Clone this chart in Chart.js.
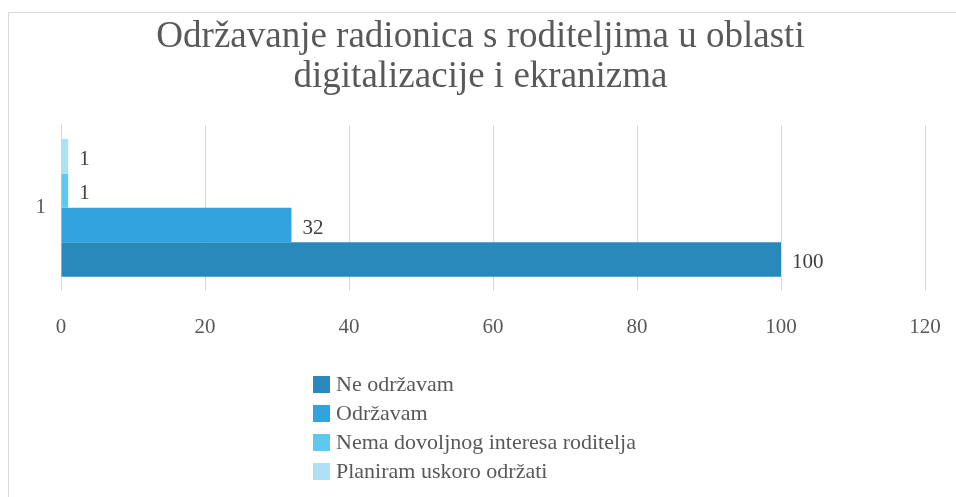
<!DOCTYPE html>
<html>
<head>
<meta charset="utf-8">
<script src="https://cdn.jsdelivr.net/npm/chart.js@4"></script>
<style>
  body { margin: 0; background: #fff; }
  #frame { position: absolute; left: 8px; top: 12px; width: 1000px; height: 520px; border: 1px solid #d9d9d9; }
  #wrap { position: absolute; left: 0; top: 0; width: 956px; height: 372px; }
  #legend { position: absolute; left: 313px; top: 369px; color: #595959; font-size: 22px; font-family: 'Liberation Serif'; }
  #legend div { height: 29px; line-height: 29px; white-space: nowrap; }
  #legend span { display: inline-block; width: 17px; height: 17px; margin-right: 6px; vertical-align: -2px; }
</style>
</head>
<body>
<div id="frame"></div>
<div id="wrap"><canvas id="chart" width="956" height="372"></canvas></div>
<div id="legend"></div>
<script>
const categories = ["1"];
const seriesNames = ["Ne održavam", "Održavam", "Nema dovoljnog interesa roditelja", "Planiram uskoro održati"];
const seriesValues = [[100], [32], [1], [1]];
const seriesColors = ["#2a89bb", "#32a3df", "#5ec8ef", "#ade2f6"];
const xTicks = [0, 20, 40, 60, 80, 100, 120];

const serif = "Liberation Serif";

// chart.js puts the first dataset on top, the picture has "Ne održavam" at the bottom
const order = [3, 2, 1, 0];

const valueLabels = {
    id: "valueLabels",
    afterDatasetsDraw(chart) {
        const ctx = chart.ctx;
        ctx.save();
        ctx.font = "21px '" + serif + "'";
        ctx.fillStyle = "#404040";
        ctx.textBaseline = "middle";
        ctx.textAlign = "left";
        chart.data.datasets.forEach((ds, i) => {
            chart.getDatasetMeta(i).data.forEach((bar, j) => {
                ctx.fillText(ds.data[j], bar.x + 11, bar.y + 3);
            });
        });
        ctx.restore();
    }
};

Chart.defaults.font.family = serif;

new Chart(document.getElementById("chart"), {
    type: "bar",
    data: {
        labels: categories,
        datasets: order.map(i => ({
            label: seriesNames[i],
            data: seriesValues[i],
            backgroundColor: seriesColors[i],
            categoryPercentage: 0.83,
            barPercentage: 1
        }))
    },
    options: {
        indexAxis: "y",
        responsive: false,
        animation: false,
        // left padding centres the title like the original; the y axis is narrowed to match
        layout: { padding: { left: 36, right: 31, top: 0, bottom: 8 } },
        plugins: {
            legend: { display: false },
            tooltip: { enabled: false },
            title: {
                display: true,
                text: ["Održavanje radionica s roditeljima u oblasti", "digitalizacije i ekranizma"],
                color: "#595959",
                font: { size: 37, weight: "normal", lineHeight: 1.08 },
                padding: { top: 17, bottom: 28 }
            }
        },
        scales: {
            x: {
                min: 0,
                max: 120,
                afterBuildTicks: s => { s.ticks = xTicks.map(v => ({ value: v })); },
                // drop the label overhang so the layout padding alone sets the right edge
                afterFit: s => { s.paddingRight = 0; s.paddingLeft = 0; },
                grid: { color: "#d9d9d9", drawTicks: false },
                border: { display: false },
                ticks: { color: "#595959", padding: 24, font: { size: 21 } }
            },
            y: {
                grid: { display: false, drawTicks: false },
                border: { color: "#d9d9d9" },
                afterFit: s => { s.width = 25; },
                ticks: { color: "#595959", padding: 15, font: { size: 21 } }
            }
        }
    },
    plugins: [valueLabels]
});

const legend = document.getElementById("legend");
seriesNames.forEach((name, i) => {
    const row = document.createElement("div");
    const box = document.createElement("span");
    box.style.background = seriesColors[i];
    row.appendChild(box);
    row.appendChild(document.createTextNode(name));
    legend.appendChild(row);
});
</script>
</body>
</html>
